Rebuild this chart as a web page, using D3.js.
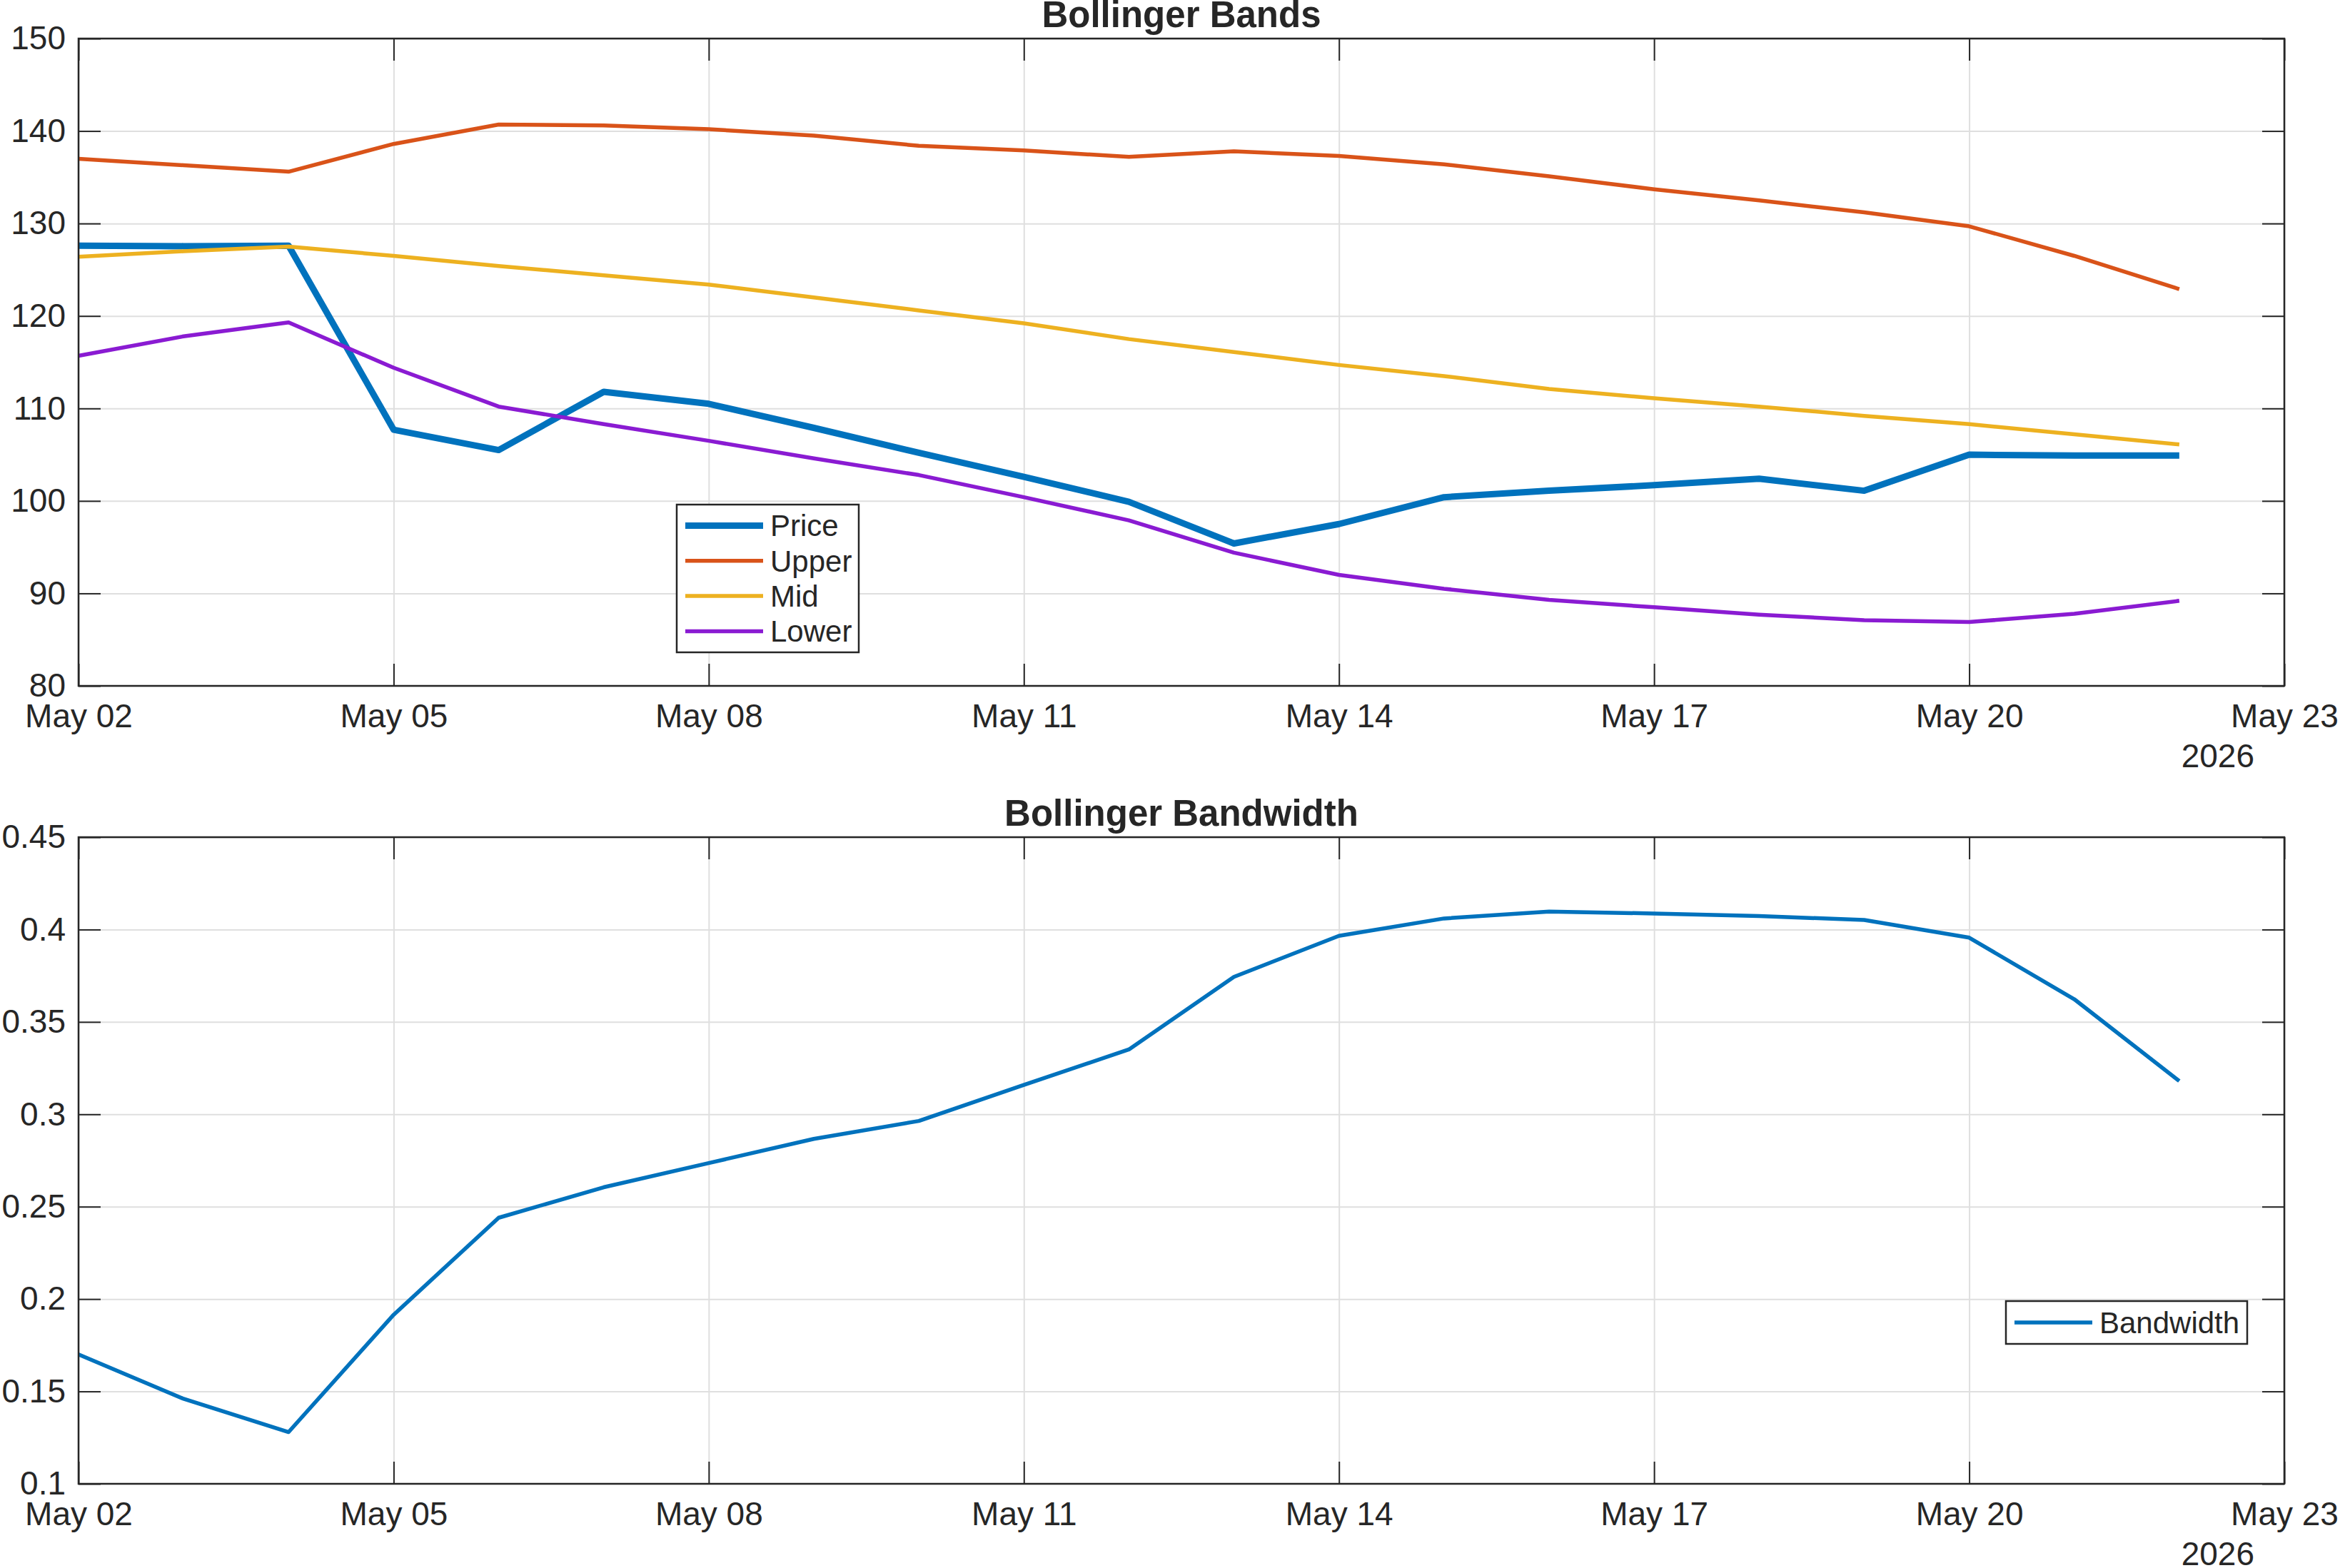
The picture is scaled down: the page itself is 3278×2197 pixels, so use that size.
<!DOCTYPE html>
<html>
<head>
<meta charset="utf-8">
<script src="https://cdn.jsdelivr.net/npm/d3@7"></script>
<style>
  html, body { margin: 0; padding: 0; background: #fff; }
  svg { display: block; }
  text { font-family: "Liberation Sans", Arial, Helvetica, sans-serif; fill: #262626; }
</style>
</head>
<body>
<script>
// ---------------- DATA ----------------
const dates = ["2026-05-02","2026-05-03","2026-05-04","2026-05-05","2026-05-06","2026-05-07","2026-05-08",
               "2026-05-09","2026-05-10","2026-05-11","2026-05-12","2026-05-13","2026-05-14","2026-05-15",
               "2026-05-16","2026-05-17","2026-05-18","2026-05-19","2026-05-20","2026-05-21","2026-05-22"];
const price = [127.6,127.55,127.6,107.7,105.5,111.8,110.5,107.9,105.2,102.6,99.9,95.4,97.5,100.4,101.1,101.7,102.4,101.1,105.0,104.9,104.9];
const upper = [137.0,136.3,135.6,138.6,140.7,140.6,140.2,139.5,138.4,137.9,137.2,137.8,137.3,136.4,135.1,133.7,132.5,131.2,129.7,126.5,122.9];
const mid   = [126.4,127.0,127.5,126.5,125.4,124.4,123.4,122.0,120.6,119.2,117.5,116.1,114.7,113.5,112.1,111.1,110.2,109.2,108.3,107.2,106.1];
const lower = [115.7,117.8,119.3,114.4,110.2,108.3,106.5,104.6,102.8,100.4,97.9,94.4,92.0,90.5,89.3,88.5,87.7,87.1,86.9,87.8,89.2];
const bandwidth = [0.170,0.146,0.128,0.1915,0.244,0.2605,0.2736,0.2867,0.2964,0.3159,0.3351,0.3744,0.3966,0.406,0.4097,0.4087,0.4073,0.4052,0.3956,0.3623,0.318];

const xDomain = ["2026-05-02","2026-05-23"];
const xTickDates = ["2026-05-02","2026-05-05","2026-05-08","2026-05-11","2026-05-14","2026-05-17","2026-05-20","2026-05-23"];
const yearLabel = "2026";
const topTicks = [80,90,100,110,120,130,140,150];
const botTicks = [0.1,0.15,0.2,0.25,0.3,0.35,0.4,0.45];
const topSeries = ["Price","Upper","Mid","Lower"];
const botSeries = ["Bandwidth"];

// ---------------- STYLE ----------------
const W = 3278, H = 2197;
const colors = {Price:"#0072BD", Upper:"#D95319", Mid:"#EDB120", Lower:"#8A1BD2", Bandwidth:"#0072BD"};
const widths = {Price:9, Upper:5.5, Mid:5.5, Lower:5.5, Bandwidth:5.5};
const axisColor = "#262626", gridColor = "#dfdfdf";
const tickFont = 46, titleFont = 51, legendFont = 42, tickLen = 31;

const parse = d3.utcParse("%Y-%m-%d");
const fmt = d3.utcFormat("%b %d");

const svg = d3.select("body").append("svg").attr("width", W).attr("height", H);
svg.append("rect").attr("width", W).attr("height", H).attr("fill", "#fff");

function panel(cfg) {
  const {left, right, top, bottom, yDomain, yTicks, yFormat, title, series, legend} = cfg;
  const x = d3.scaleUtc().domain(xDomain.map(parse)).range([left, right]);
  const y = d3.scaleLinear().domain(yDomain).range([bottom, top]);
  const g = svg.append("g");
  const xt = xTickDates.map(parse);

  // grid
  g.append("g").attr("transform", `translate(0,${bottom})`)
    .call(d3.axisBottom(x).tickValues(xt).tickSize(-(bottom - top)).tickFormat(""))
    .call(s => { s.select(".domain").remove(); s.selectAll("line").attr("stroke", gridColor).attr("stroke-width", 2); });
  g.append("g").attr("transform", `translate(${left},0)`)
    .call(d3.axisLeft(y).tickValues(yTicks).tickSize(-(right - left)).tickFormat(""))
    .call(s => { s.select(".domain").remove(); s.selectAll("line").attr("stroke", gridColor).attr("stroke-width", 2); });

  // lines
  series.forEach(s => {
    const line = d3.line().x((d, i) => x(parse(dates[i]))).y(d => y(d));
    g.append("path").datum(s.values).attr("d", line)
      .attr("fill", "none").attr("stroke", colors[s.name]).attr("stroke-width", widths[s.name])
      .attr("stroke-linejoin", "round");
  });

  // ticks (inward on all sides)
  const tickStyle = s => { s.select(".domain").remove(); s.selectAll("line").attr("stroke", axisColor).attr("stroke-width", 2); };
  g.append("g").attr("transform", `translate(0,${bottom})`)
    .call(d3.axisBottom(x).tickValues(xt).tickSize(-tickLen).tickPadding(25).tickFormat(fmt))
    .call(tickStyle)
    .call(s => s.selectAll("text").attr("font-size", tickFont).attr("fill", axisColor).attr("font-family", null));
  g.append("g").attr("transform", `translate(0,${top})`)
    .call(d3.axisTop(x).tickValues(xt).tickSize(-tickLen).tickFormat(""))
    .call(tickStyle);
  g.append("g").attr("transform", `translate(${left},0)`)
    .call(d3.axisLeft(y).tickValues(yTicks).tickSize(-tickLen).tickPadding(18).tickFormat(yFormat))
    .call(tickStyle)
    .call(s => s.selectAll("text").attr("font-size", tickFont).attr("fill", axisColor).attr("font-family", null));
  g.append("g").attr("transform", `translate(${right},0)`)
    .call(d3.axisRight(y).tickValues(yTicks).tickSize(-tickLen).tickFormat(""))
    .call(tickStyle);

  // box
  g.append("rect").attr("x", left).attr("y", top).attr("width", right - left).attr("height", bottom - top)
    .attr("fill", "none").attr("stroke", axisColor).attr("stroke-width", 2.5);

  // year label
  g.append("text").attr("x", right - 42).attr("y", bottom + 114).attr("text-anchor", "end")
    .attr("font-size", tickFont).text(yearLabel);

  // title
  g.append("text").attr("x", (left + right) / 2).attr("y", top - 16).attr("text-anchor", "middle")
    .attr("font-size", titleFont).attr("font-weight", "bold").attr("fill", "#222").text(title);

  // legend
  const lg = g.append("g");
  lg.append("rect").attr("x", legend.x).attr("y", legend.y).attr("width", legend.w).attr("height", legend.h)
    .attr("fill", "#fff").attr("stroke", axisColor).attr("stroke-width", 2.5);
  series.forEach((s, i) => {
    const cy = legend.y + legend.first + i * legend.step;
    lg.append("line").attr("x1", legend.x + 12).attr("x2", legend.x + 121).attr("y1", cy).attr("y2", cy)
      .attr("stroke", colors[s.name]).attr("stroke-width", widths[s.name]);
    lg.append("text").attr("x", legend.x + 131).attr("y", cy).attr("dy", "0.35em")
      .attr("font-size", legendFont).text(s.name);
  });
}

panel({
  left: 110, right: 3200, top: 54, bottom: 961,
  yDomain: [80, 150], yTicks: topTicks, yFormat: d3.format("d"),
  title: "Bollinger Bands",
  series: [
    {name: topSeries[0], values: price},
    {name: topSeries[1], values: upper},
    {name: topSeries[2], values: mid},
    {name: topSeries[3], values: lower}
  ],
  legend: {x: 948, y: 707, w: 255, h: 207, first: 29.5, step: 49.3}
});

panel({
  left: 110, right: 3200, top: 1173, bottom: 2079,
  yDomain: [0.1, 0.45], yTicks: botTicks, yFormat: d3.format("~g"),
  title: "Bollinger Bandwidth",
  series: [{name: botSeries[0], values: bandwidth}],
  legend: {x: 2810, y: 1823, w: 338, h: 60, first: 30, step: 0}
});
</script>
</body>
</html>
